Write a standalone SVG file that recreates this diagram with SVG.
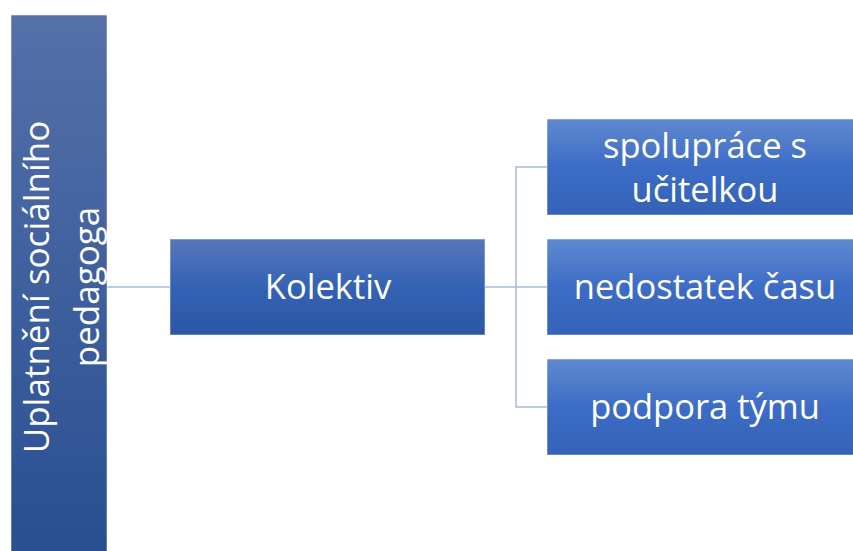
<svg xmlns="http://www.w3.org/2000/svg" width="853" height="551" viewBox="0 0 853 551">
<defs>
<linearGradient id="gLeft" x1="0" y1="0" x2="0" y2="1">
<stop offset="0" stop-color="#5670a8"/>
<stop offset="1" stop-color="#284f92"/>
</linearGradient>
<linearGradient id="gMid" x1="0" y1="0" x2="0" y2="1">
<stop offset="0" stop-color="#5777bb"/>
<stop offset="0.5" stop-color="#3462b4"/>
<stop offset="1" stop-color="#2c56a2"/>
</linearGradient>
<linearGradient id="gRight" x1="0" y1="0" x2="0" y2="1">
<stop offset="0" stop-color="#6089cf"/>
<stop offset="0.5" stop-color="#3c6cc6"/>
<stop offset="1" stop-color="#3462b6"/>
</linearGradient>
</defs>
<style>
.lbl{font-family:"Open Sans","Liberation Sans",sans-serif;fill:#ffffff;text-anchor:middle}
.box{stroke:#ffffff;stroke-opacity:0.5;stroke-width:1}
.con{stroke:#a9b8e0;stroke-width:1.5;fill:none}
</style>
<g id="connectors">
<line class="con" x1="107" y1="287" x2="170" y2="287"/>
<polyline class="con" points="485,287 516,287"/>
<polyline class="con" points="547,167 516,167 516,407 547,407"/>
<line class="con" x1="516" y1="287" x2="547" y2="287"/>
</g>
<g id="node-root">
<rect class="box" x="11" y="15" width="96" height="540" fill="url(#gLeft)"/>
<text class="lbl" font-size="35" transform="translate(59,287) rotate(-90)"><tspan x="0" y="-10">Uplatnění sociálního</tspan><tspan x="0" y="40">pedagoga</tspan></text>
</g>
<g id="node-kolektiv">
<rect class="box" x="170" y="239" width="315" height="96" fill="url(#gMid)"/>
<text class="lbl" font-size="34.5" x="328" y="299">Kolektiv</text>
</g>
<g id="node-spoluprace">
<rect class="box" x="547" y="119" width="310" height="96" fill="url(#gRight)"/>
<text class="lbl" font-size="34.5" x="705" y="158">spolupráce s</text>
<text class="lbl" font-size="34.5" x="705" y="202">učitelkou</text>
</g>
<g id="node-nedostatek">
<rect class="box" x="547" y="239" width="310" height="96" fill="url(#gRight)"/>
<text class="lbl" font-size="34.5" x="705" y="299">nedostatek času</text>
</g>
<g id="node-podpora">
<rect class="box" x="547" y="359" width="310" height="96" fill="url(#gRight)"/>
<text class="lbl" font-size="34.5" x="705" y="419">podpora týmu</text>
</g>
</svg>
